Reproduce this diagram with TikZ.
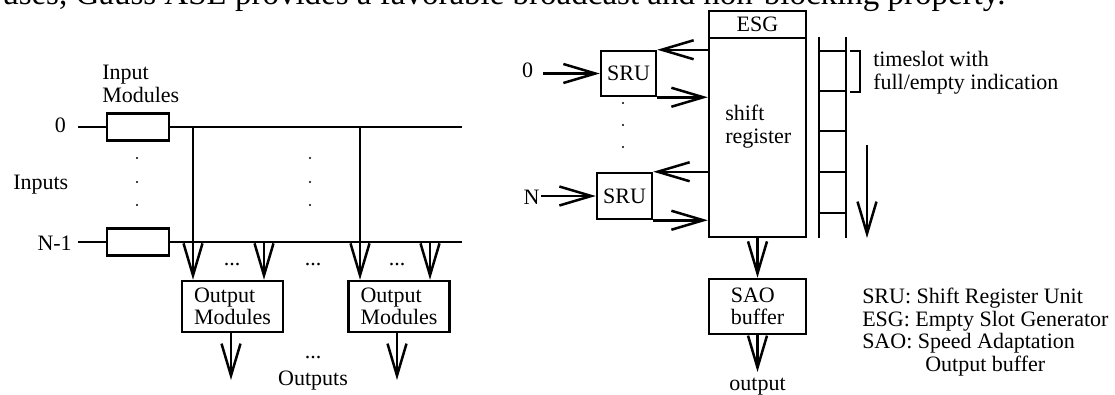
\documentclass[tikz,border=0pt]{standalone}
\usepackage{fontspec}
\setmainfont{Liberation Serif}
\usetikzlibrary{arrows.meta, positioning}

\begin{document}
\begin{tikzpicture}[x=1pt, y=-1pt, line width=2.5pt,
  font=\fontsize{22}{22.5}\selectfont,
  box/.style={draw, inner sep=0pt, align=left},
  txt/.style={inner sep=0pt, align=left},
  arr/.style={-{Straight Barb[length=32pt, width=19pt]}}]
  \useasboundingbox (0,0) rectangle (1115,394);
  \clip (0,0) rectangle (1115,394);
  % cut-off line of the running text above
  \node[txt, anchor=base west, font=\fontsize{33}{36}\selectfont] (runin) at (1,4)
    {uses, Gauss ASL provides a favorable broadcast and non-blocking property.};

  % Gauss switch: input modules and buses
  \node[txt, anchor=north west] (inlbl) at (101,64) {Input\\Modules};
  \node[box, minimum width=62pt, minimum height=27pt] (in0) at (138,127) {};
  \node[box, minimum width=62pt, minimum height=27pt] (inN) at (138,242) {};
  \coordinate (src0) at (78,127);
  \coordinate (srcN) at (78,242);
  \coordinate (bus0) at (462,127);
  \coordinate (busN) at (462,242);
  \node[txt, anchor=base east] (lbl0) at (67,132) {0};
  \node[txt, anchor=base east] (lblN) at (73,250) {N-1};
  \node[txt, anchor=base west] (inputs) at (12,189) {Inputs};
  \draw (src0) -- (in0) (in0) -- (bus0);
  \draw (srcN) -- (inN) (inN) -- (busN);
  \foreach \x in {137,310}
    \foreach \y in {158,182,205}
      \fill (\x,\y) circle (1.2pt);

  % output modules
  \node[box, minimum width=101pt, minimum height=51pt] (out1) at (232.5,306.5) {Output\\Modules};
  \node[box, minimum width=101pt, minimum height=51pt] (out2) at (399,306.5) {Output\\Modules};
  \coordinate (tap1) at (193,127);
  \coordinate (tap2) at (264,242);
  \coordinate (tap3) at (360,127);
  \coordinate (tap4) at (430,242);
  \foreach \t/\o in {tap1/out1, tap2/out1, tap3/out2, tap4/out2}
    \draw[arr] (\t) -- (\t |- \o.north);
  \coordinate (sink1) at (231,380);
  \coordinate (sink2) at (397,380);
  \draw[arr] (sink1 |- out1.south) -- (sink1);
  \draw[arr] (sink2 |- out2.south) -- (sink2);
  \node[txt, anchor=base] (gap1) at (232,265) {...};
  \node[txt, anchor=base] (gap2) at (313,265) {...};
  \node[txt, anchor=base] (gap3) at (397,265) {...};
  \node[txt, anchor=base] (gap4) at (313,358) {...};
  \node[txt, anchor=base] (outputs) at (313,385) {Outputs};

  % Gauss ASL: shift register with SRUs
  \node[box, minimum width=97pt, minimum height=27pt] (esg) at (757.5,24.5) {ESG};
  \node[box, minimum width=97pt, minimum height=199pt] (reg) at (757.5,137.5) {};
  \node[txt, anchor=north west] (regtxt) at (724,104) {shift\\register};
  \node[box, minimum width=55pt, minimum height=45pt] (sru0) at (628.5,73.5) {SRU};
  \node[box, minimum width=55pt, minimum height=46pt] (sruN) at (624.5,196) {SRU};
  \coordinate (src0r) at (543,73.5);
  \coordinate (srcNr) at (541,196);
  \node[txt, anchor=base] (lbl0r) at (527.5,77) {0};
  \node[txt, anchor=base] (lblNr) at (531.5,204) {N};
  \draw[arr] (src0r) -- (sru0);
  \draw[arr] (srcNr) -- (sruN);
  \draw[arr] (reg.west |- sru0.north east) -- (sru0.north east);
  \draw[arr] (sru0.south east) -- (reg.west |- sru0.south east);
  \draw[arr] (reg.west |- sruN.north east) -- (sruN.north east);
  \draw[arr] (sruN.south east) -- (reg.west |- sruN.south east);
  \foreach \y in {103,125,147}
    \fill (623,\y) circle (1.2pt);

  % SAO buffer
  \node[box, minimum width=97pt, minimum height=55pt] (sao) at (757.5,306.5) {SAO\\buffer};
  \coordinate (sinkr) at (757.5,372);
  \draw[arr] (reg) -- (sao);
  \draw[arr] (sao) -- (sinkr);
  \node[txt, anchor=base] (outlbl) at (757.5,390) {output};

  % timeslot ladder
  \draw (819,37) -- (819,238) (846,37) -- (846,238);
  \foreach \y in {51,91,131,172,213}
    \draw (819,\y) -- (846,\y);
  \draw (850,51) -- (860,51) -- (860,92) -- (850,92);
  \node[txt, anchor=north west] (slotlbl) at (872,50) {timeslot with\\full/empty indication};
  \coordinate (flowtop) at (867,145);
  \coordinate (flowbot) at (867,238);
  \draw[arr] (flowtop) -- (flowbot);

  % legend
  \node[txt, anchor=north west] (legend) at (861,287)
    {SRU: Shift Register Unit\\ESG: Empty Slot Generator\\SAO: Speed Adaptation\\\hspace*{63pt}Output buffer};
\end{tikzpicture}
\end{document}
